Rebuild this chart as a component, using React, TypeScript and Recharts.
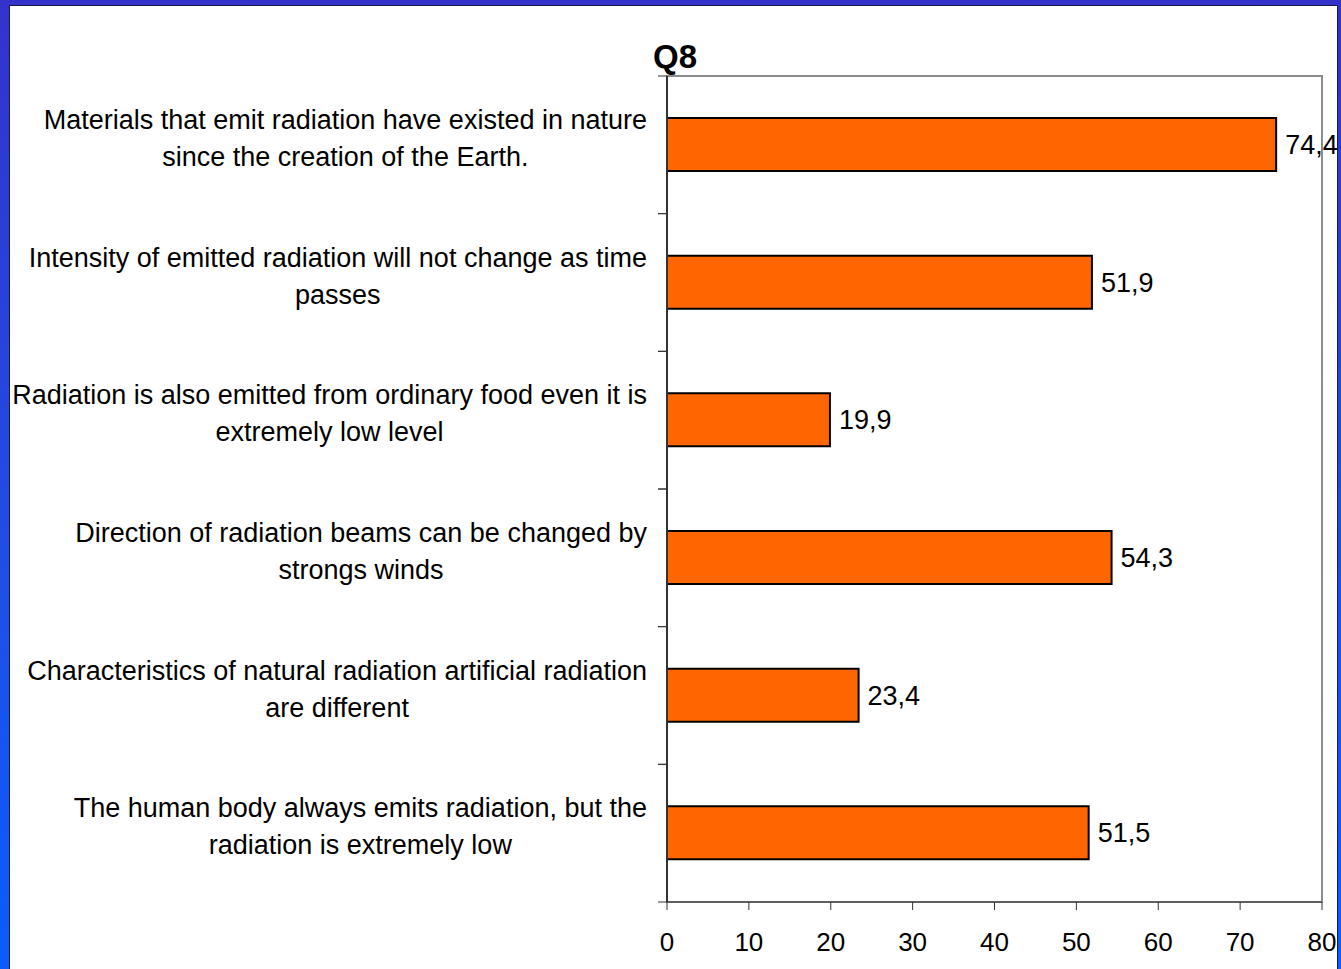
import React from "react";
import {
  BarChart,
  Bar,
  XAxis,
  YAxis,
  LabelList,
  ReferenceArea,
} from "recharts";

const categories = [
  "Materials that emit radiation have existed in nature\nsince the creation of the Earth.",
  "Intensity of emitted radiation will not change as time\npasses",
  "Radiation is also emitted from ordinary food even it is\nextremely low level",
  "Direction of radiation beams can be changed by\nstrongs winds",
  "Characteristics of natural radiation artificial radiation\nare different",
  "The human body always emits radiation, but the\nradiation is extremely low",
];
const values = [74.4, 51.9, 19.9, 54.3, 23.4, 51.5];
const xTicks = [0, 10, 20, 30, 40, 50, 60, 70, 80];
const title = "Q8";

const data = categories.map((label, i) => ({ label, value: values[i] }));

const W = 1341;
const H = 969;
const MARGIN = { top: 76, right: 19, bottom: 7, left: 10 };
const X_AXIS_H = 60;
const Y_AXIS_W = 657;
const BAND = (H - MARGIN.top - MARGIN.bottom - X_AXIS_H) / categories.length;
const FONT = "'Liberation Sans', Arial, sans-serif";
const FONT_SIZE = 27;

let canvas: HTMLCanvasElement | null = null;
function textWidth(s: string) {
  if (!canvas) canvas = document.createElement("canvas");
  const ctx = canvas.getContext("2d");
  if (!ctx) return s.length * 13;
  ctx.font = `${FONT_SIZE}px ${FONT}`;
  return ctx.measureText(s).width;
}

function CategoryTick(props: any) {
  const { x, y, payload } = props;
  const lines = String(payload.value).split("\n");
  const maxW = Math.max(...lines.map(textWidth));
  const axisX = x + 8;
  const right = axisX - 20;
  const cx = right - maxW / 2;
  return (
    <g>
      <line x1={axisX - 9} x2={axisX} y1={y - BAND / 2} y2={y - BAND / 2} stroke="#333" strokeWidth={1} />
      <line x1={axisX - 9} x2={axisX} y1={y + BAND / 2} y2={y + BAND / 2} stroke="#333" strokeWidth={1} />
      {lines.map((ln, i) => (
        <text
          key={i}
          x={cx}
          y={y - 16 + i * 37 + (lines.length === 1 ? 18 : 0)}
          textAnchor="middle"
          fontFamily={FONT}
          fontSize={FONT_SIZE}
          fill="#000"
        >
          {ln}
        </text>
      ))}
    </g>
  );
}

export default function App() {
  return (
    <div
      style={{
        position: "absolute",
        left: 0,
        top: 0,
        width: W,
        height: H,
        background: "linear-gradient(to bottom, #3333cc 0%, #1f4fe6 60%, #0a5cff 100%)",
        overflow: "hidden",
      }}
    >
      <style>{"body{margin:0}"}</style>
      <div
        style={{
          position: "absolute",
          left: 9,
          top: 5,
          width: 1329 - 2,
          height: H - 5,
          background: "#fff",
          border: "1px solid #1a1a40",
          borderBottom: "none",
        }}
      />
      <div style={{ position: "absolute", left: 0, top: 0 }}>
        <BarChart width={W} height={H} data={data} layout="vertical" margin={MARGIN}>
          <ReferenceArea
            x1={0}
            x2={80}
            fill="none"
            fillOpacity={0}
            stroke="#8c8c8c"
            strokeWidth={2}
          />
          <XAxis
            type="number"
            domain={[0, 80]}
            ticks={xTicks}
            height={X_AXIS_H}
            interval={0}
            stroke="#333"
            tickSize={8}
            tick={{ fill: "#000", fontSize: 26, fontFamily: FONT, dy: 21 }}
          />
          <YAxis
            type="category"
            dataKey="label"
            width={Y_AXIS_W}
            interval={0}
            tickLine={false}
            axisLine={{ stroke: "#333", strokeWidth: 2 }}
            tick={<CategoryTick />}
          />
          <Bar
            dataKey="value"
            fill="#ff6600"
            stroke="#000"
            strokeWidth={2}
            barSize={53}
            isAnimationActive={false}
          >
            <LabelList
              dataKey="value"
              position="right"
              offset={9}
              fill="#000"
              fontSize={FONT_SIZE}
              fontFamily={FONT}
              formatter={(v: any) => Number(v).toFixed(1).replace(".", ",")}
            />
          </Bar>
        </BarChart>
        <div
          style={{
            position: "absolute",
            left: 675,
            top: 39,
            transform: "translateX(-50%)",
            fontFamily: FONT,
            fontWeight: "bold",
            fontSize: 33,
            lineHeight: "36px",
            color: "#000",
          }}
        >
          {title}
        </div>
      </div>
    </div>
  );
}
